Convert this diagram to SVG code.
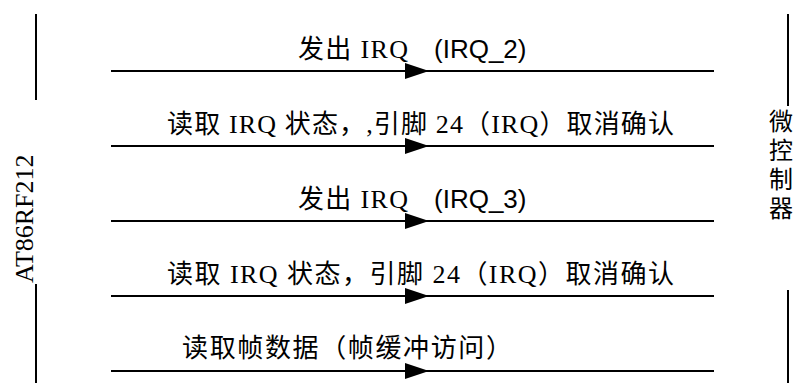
<svg xmlns="http://www.w3.org/2000/svg" width="795" height="383" viewBox="0 0 795 383">
<style>
.lbl{font-family:"Liberation Serif","Noto Sans CJK SC",serif;font-size:26px;fill:#000}
.sans{font-family:"Liberation Sans",Arial,sans-serif;font-size:26px;fill:#000}
.cjk{font-family:"Noto Sans CJK SC","Liberation Sans",sans-serif;font-size:24px;fill:#000}
.life{stroke:#000;stroke-width:2;fill:none}
.msg{stroke:#000;stroke-width:2;fill:none;marker-mid:url(#arr)}
</style>
<defs>
<marker id="arr" markerUnits="userSpaceOnUse" markerWidth="24" markerHeight="16" viewBox="0 0 24 16" refX="24" refY="8" orient="auto">
<path d="M0,0 L24,8 L0,16 Z" fill="#000"/>
</marker>
</defs>
<g id="at86rf212">
<line class="life" x1="36" y1="14" x2="36" y2="100"/>
<line class="life" x1="36" y1="284" x2="36" y2="383"/>
<text class="lbl" font-size="27" transform="translate(33,283) rotate(-90)">AT86RF212</text>
</g>
<g id="mcu">
<line class="life" x1="788" y1="14" x2="788" y2="106"/>
<line class="life" x1="788" y1="290" x2="788" y2="383"/>
<text class="cjk" x="781" y="109" writing-mode="vertical-rl" letter-spacing="5">微控制器</text>
</g>
<g id="connectors">
<path class="msg" d="M111,71 L429,71 L714,71"/>
<path class="msg" d="M111,146 L429,146 L714,146"/>
<path class="msg" d="M111,221 L429,221 L714,221"/>
<path class="msg" d="M111,296 L429,296 L714,296"/>
<path class="msg" d="M111,371 L429,371 L714,371"/>
</g>
<g id="labels">
<text class="lbl" x="298" y="58" textLength="110" lengthAdjust="spacing">发出 IRQ</text>
<text class="sans" x="434" y="58">(IRQ_2)</text>
<text class="lbl" x="167" y="133" textLength="507" lengthAdjust="spacing">读取 IRQ 状态，,引脚 24（IRQ）取消确认</text>
<text class="lbl" x="298" y="208" textLength="110" lengthAdjust="spacing">发出 IRQ</text>
<text class="sans" x="434" y="208">(IRQ_3)</text>
<text class="lbl" x="167" y="283" textLength="507" lengthAdjust="spacing">读取 IRQ 状态，引脚 24（IRQ）取消确认</text>
<text class="lbl" x="182" y="357" textLength="330" lengthAdjust="spacing">读取帧数据（帧缓冲访问）</text>
</g>
</svg>
